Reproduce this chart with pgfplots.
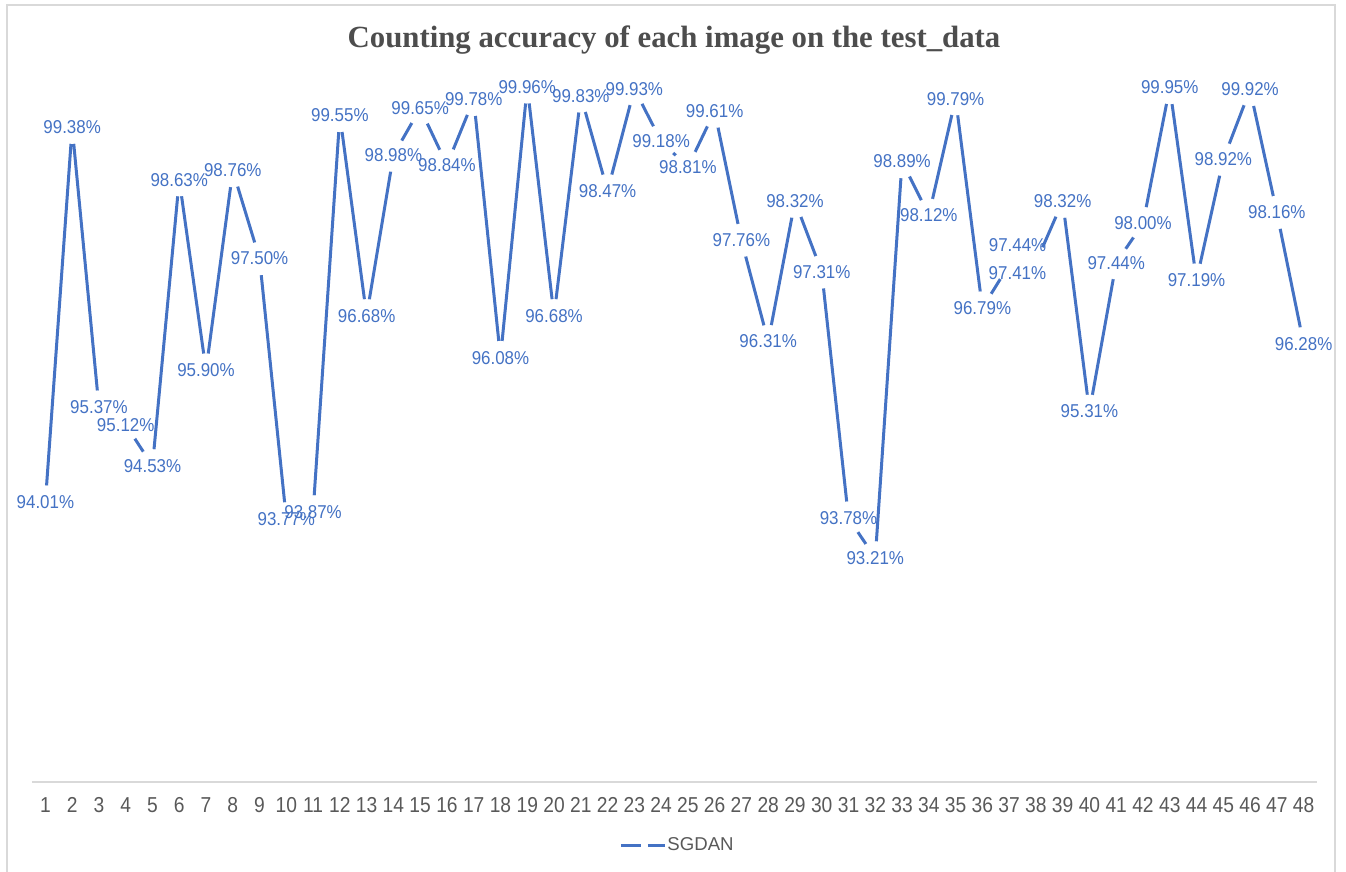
\documentclass[border=0pt]{standalone}
\usepackage{pgfplots}
\usepackage{pgfplotstable}
\pgfplotsset{compat=1.18}
\usepackage{fontspec}
\setmainfont{Liberation Sans}
\newfontfamily\titlefont{Liberation Serif}
\newfontfamily\labfont[FakeStretch=0.91]{Liberation Sans}
\newfontfamily\tickfont[FakeStretch=0.89]{Liberation Sans}

\definecolor{seriesblue}{HTML}{4472C4}
\definecolor{textgray}{HTML}{595959}
\definecolor{titlegray}{HTML}{4D4D4D}
\definecolor{framegray}{HTML}{D9D9D9}

% accuracy per test image; dx/dy move a label off its point (pt)
\pgfplotstableread{
img acc dx dy
1 94.01 0 0
2 99.38 0 0
3 95.37 0 0
4 95.12 0 0
5 94.53 0 0
6 98.63 0 0
7 95.90 0 0
8 98.76 0 0
9 97.50 0 0
10 93.77 0 0
11 93.87 0 0
12 99.55 0 0
13 96.68 0 0
14 98.98 0 0
15 99.65 0 0
16 98.84 0 0
17 99.78 0 0
18 96.08 0 0
19 99.96 0 0
20 96.68 0 0
21 99.83 0 0
22 98.47 0 0
23 99.93 0 0
24 99.18 0 0
25 98.81 0 0
26 99.61 0 0
27 97.76 0 0
28 96.31 0 0
29 98.32 0 0
30 97.31 0 0
31 93.78 0 0
32 93.21 0 0
33 98.89 0 0
34 98.12 0 0
35 99.79 0 0
36 96.79 0 0
37 97.41 4.15 -4
38 97.44 -9.15 8.85
39 98.32 0 0
40 95.31 0 0
41 97.44 0 0
42 98.00 0 0
43 99.95 0 0
44 97.19 0 0
45 98.92 0 0
46 99.92 0 0
47 98.16 0 0
48 96.28 0 0
}\accdata

\begin{document}
\begin{tikzpicture}
\useasboundingbox (0,0) rectangle (673pt,436pt);
% chart frame
\draw[framegray, line width=0.75pt] (3.5pt,-5pt) rectangle (667.5pt,433.5pt);
\node[font=\titlefont\bfseries\fontsize{15.4pt}{18pt}\selectfont, text=titlegray]
  at (337pt,416pt) {Counting accuracy of each image on the test\_data};
\begin{axis}[
  at={(16pt,45pt)}, anchor=south west,
  scale only axis, width=642.5pt, height=349pt,
  xmin=0.5, xmax=48.5, ymin=90, ymax=100,
  clip=false,
  axis x line*=bottom, axis y line=none,
  x axis line style={framegray, line width=0.75pt, -},
  xtick={1,...,48}, major tick length=0pt,
  ytick=\empty,
  /pgf/number format/assume math mode=true,
  xticklabel style={font=\tickfont\fontsize{10.8pt}{12pt}\selectfont, text=textgray,
    anchor=center, yshift=-11.5pt},
  legend style={at={(0.502,-0.0903)}, anchor=center, draw=none, fill=none,
    font=\fontsize{9.3pt}{11pt}\selectfont, text=textgray,
    inner sep=0pt, nodes={inner sep=0.5pt}},
  legend image code/.code={
    \draw[seriesblue, line width=1.5pt] (0pt,0pt) -- (10pt,0pt);
    \draw[seriesblue, line width=1.5pt] (13.5pt,0pt) -- (22pt,0pt);
  },
]
% the series, with white discs that open the line round each point
\addplot[seriesblue, line width=1.5pt, mark=*, mark size=8.3pt,
  mark options={solid, draw=white, fill=white, line width=0.1pt}]
  table[x=img, y=acc] {\accdata};
\addlegendentry{SGDAN}
% value labels
\addplot[draw=none, mark=none, forget plot,
  point meta=y,
  visualization depends on={\thisrow{dx} \as \labdx},
  visualization depends on={\thisrow{dy} \as \labdy},
  nodes near coords={\pgfmathprintnumber[fixed, fixed zerofill, precision=2,
     assume math mode=true]{\pgfplotspointmeta}\%},
  every node near coord/.append style={anchor=center, inner sep=0pt,
     text=seriesblue, font=\labfont\fontsize{9.3pt}{11pt}\selectfont,
     xshift=\labdx pt, yshift=\labdy pt}]
  table[x=img, y=acc] {\accdata};
\end{axis}
\end{tikzpicture}
\end{document}
